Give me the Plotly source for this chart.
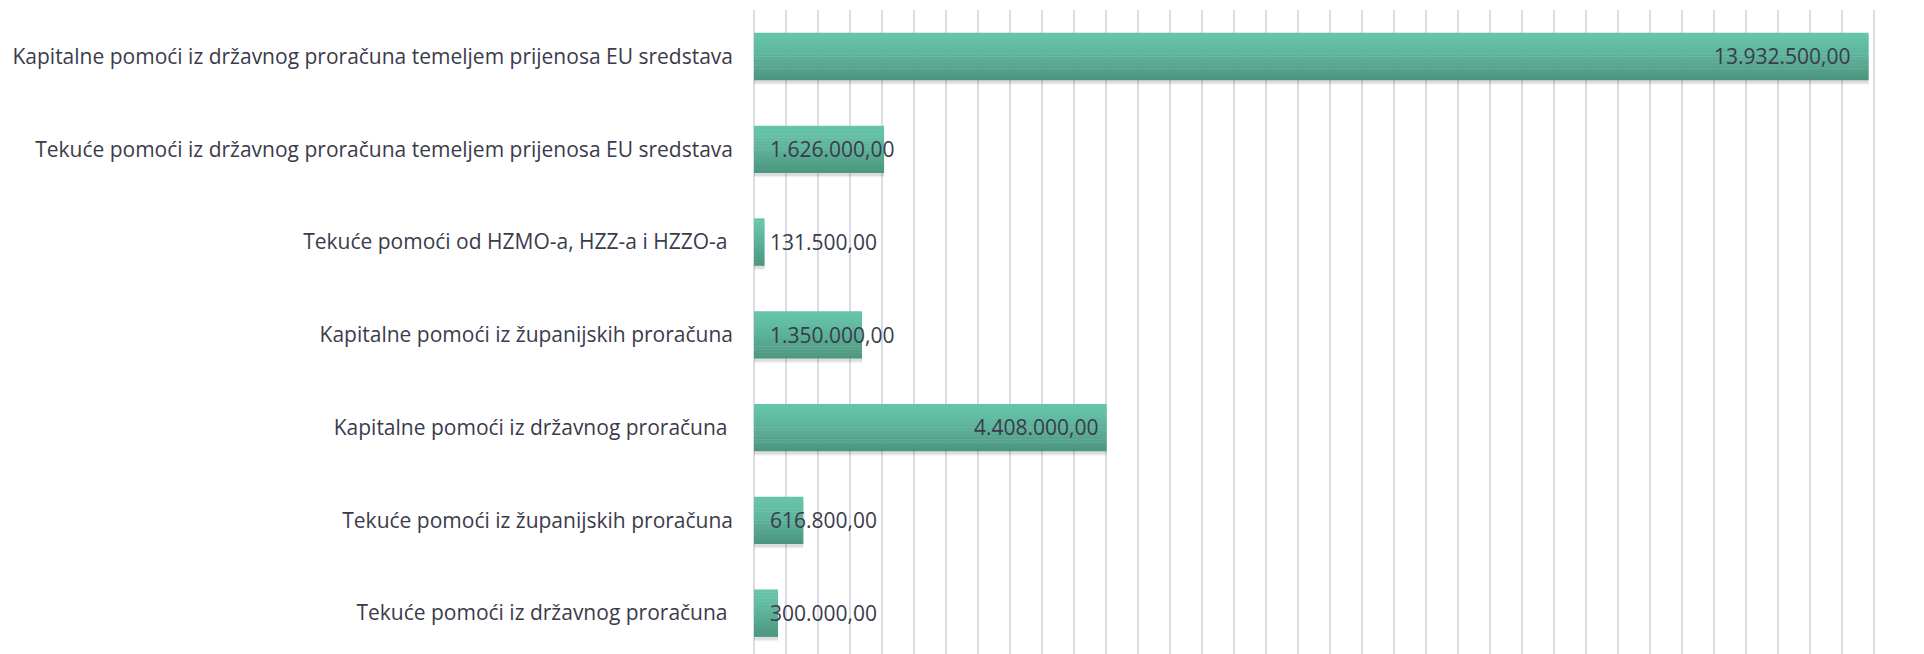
import plotly.graph_objects as go

categories = [
    "Kapitalne pomoći iz državnog proračuna temeljem prijenosa EU sredstava",
    "Tekuće pomoći iz državnog proračuna temeljem prijenosa EU sredstava",
    "Tekuće pomoći od HZMO-a, HZZ-a i HZZO-a ",
    "Kapitalne pomoći iz županijskih proračuna",
    "Kapitalne pomoći iz državnog proračuna ",
    "Tekuće pomoći iz županijskih proračuna",
    "Tekuće pomoći iz državnog proračuna ",
]
values = [13932500, 1626000, 131500, 1350000, 4408000, 616800, 300000]
label_at_end = [True, False, False, False, True, False, False]


def hr_fmt(v):
    s = f"{v:,.2f}"
    return s.replace(",", "X").replace(".", ",").replace("X", ".")


def lerp(c1, c2, t):
    return "rgb(%d,%d,%d)" % tuple(round(a + (b - a) * t) for a, b in zip(c1, c2))


TXT = "#3b3b4b"
TOP = (102, 196, 168)
BOT = (77, 150, 127)
W = 0.507
N = 16
END_SHIFT = [-16, 0, 0, 0, -6, 0, 0]  # styling: label offsets in px

fig = go.Figure()
# soft shadow under bars
for k, a in [(0.05, 0.06), (0.035, 0.08)]:
    fig.add_trace(go.Bar(
        y=categories, x=values, orientation="h",
        offset=-W / 2 + k, width=W,
        marker=dict(color=f"rgba(0,0,0,{a})", line=dict(width=0)),
        hoverinfo="skip",
    ))
# vertical gradient made of stacked strips
for i in range(N):
    t = i / (N - 1)
    tt = t ** 1.3
    fig.add_trace(go.Bar(
        y=categories, x=values, orientation="h",
        offset=-W / 2 + i * W / N, width=W / N + 0.004,
        marker=dict(color=lerp(TOP, BOT, tt), line=dict(width=0)),
        hoverinfo="skip",
    ))

annotations = []
for c, v, end, sh in zip(categories, values, label_at_end, END_SHIFT):
    if end:
        annotations.append(dict(x=v, y=c, xref="x", yref="y", text=hr_fmt(v),
                                xanchor="right", xshift=sh, showarrow=False,
                                font=dict(size=21, color=TXT, family="Open Sans")))
    else:
        annotations.append(dict(x=0, y=c, xref="x", yref="y", text=hr_fmt(v),
                                xanchor="left", xshift=14, showarrow=False,
                                font=dict(size=21, color=TXT, family="Open Sans")))

fig.update_layout(
    width=1916, height=646,
    margin=dict(l=746, r=18, t=2, b=0),
    plot_bgcolor="white", paper_bgcolor="white",
    barmode="overlay",
    showlegend=False,
    annotations=annotations,
    font=dict(family="Open Sans", color=TXT),
    xaxis=dict(range=[0, 14400000], dtick=400000, showticklabels=False,
               showgrid=True, gridcolor="#dcdce6", gridwidth=2,
               zeroline=True, zerolinecolor="#dcdce6", zerolinewidth=2,
               showline=False, ticks=""),
    yaxis=dict(range=[6.442, -0.5], type="category", automargin=False,
               tickfont=dict(size=21, color=TXT, family="Open Sans"),
               ticklabelstandoff=20, showgrid=False, showline=False, ticks=""),
)
fig.write_html("out.html")
